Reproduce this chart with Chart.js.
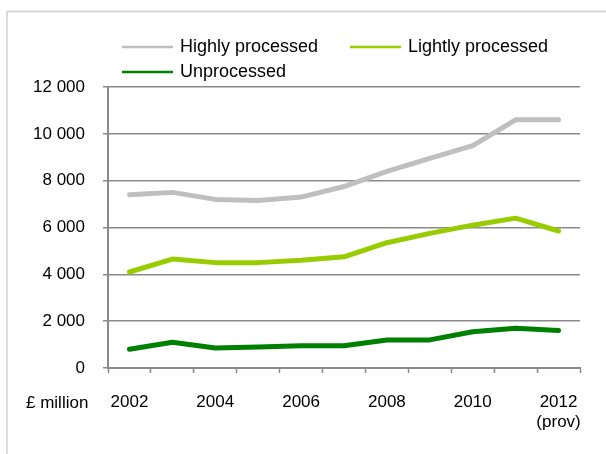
<!DOCTYPE html>
<html>
<head>
<meta charset="utf-8">
<title>Processed food sales</title>
<script src="https://cdn.jsdelivr.net/npm/chart.js@4/dist/chart.umd.min.js"></script>
<style>
    html, body { margin: 0; padding: 0; background: #fff; }
    #wrap { width: 606px; height: 454px; }
</style>
</head>
<body>
<div id="wrap"><canvas id="foodChart" width="606" height="454"></canvas></div>
<script>
// ===========================
// Data
// ===========================
const years = ['2002', '2003', '2004', '2005', '2006', '2007', '2008', '2009', '2010', '2011', '2012'];
const provisionalYear = '2012';
const highlyProcessed = [7400, 7500, 7200, 7150, 7300, 7750, 8400, 8950, 9500, 10600, 10600];
const lightlyProcessed = [4100, 4650, 4500, 4500, 4600, 4750, 5350, 5750, 6100, 6400, 5850];
const unprocessed = [800, 1100, 850, 900, 950, 950, 1200, 1200, 1550, 1700, 1600];
const yTicks = [0, 2000, 4000, 6000, 8000, 10000, 12000];
const unitLabel = '£ million';

const FONT = "'Liberation Sans', Arial, sans-serif";
const GRID = '#8a8a8a';

// thousands with a space, like "12 000"
function formatThousands(v) {
    return String(v).replace(/\B(?=(\d{3})+(?!\d))/g, ' ');
}

// ===========================
// Frame, unit label and legend (drawn by hand to match the layout)
// ===========================
const decorPlugin = {
    id: 'decor',
    beforeDraw(chart) {
        const ctx = chart.ctx;
        ctx.save();
        ctx.strokeStyle = '#d0d0d0';
        ctx.lineWidth = 1.5;
        ctx.beginPath();
        ctx.moveTo(7, 460);
        ctx.lineTo(7, 11.5);
        ctx.lineTo(610, 11.5);
        ctx.stroke();
        ctx.restore();
    },
    afterDraw(chart) {
        const ctx = chart.ctx;
        ctx.save();
        ctx.fillStyle = '#000';
        ctx.textBaseline = 'middle';

        // unit label next to the first year
        ctx.font = '17px ' + FONT;
        ctx.textAlign = 'left';
        ctx.fillText(unitLabel, 26, 403);

        // legend: two items on first row, one on the second
        const spots = [[122, 47], [350, 47], [122, 72]];
        ctx.font = '18px ' + FONT;
        chart.data.datasets.forEach((ds, i) => {
            const [x, y] = spots[i];
            ctx.strokeStyle = ds.borderColor;
            ctx.lineWidth = 2.5;
            ctx.beginPath();
            ctx.moveTo(x, y);
            ctx.lineTo(x + 51, y);
            ctx.stroke();
            ctx.fillText(ds.label, x + 58, y);
        });
        ctx.restore();
    }
};

// ===========================
// Chart
// ===========================
const ctx = document.getElementById('foodChart').getContext('2d');
const lineStyle = {
    borderWidth: 5,
    pointRadius: 0,
    pointHoverRadius: 0,
    tension: 0,
    fill: false,
    borderCapStyle: 'round',
    borderJoinStyle: 'round'
};

const foodChart = new Chart(ctx, {
    type: 'line',
    data: {
        labels: years,
        datasets: [
            Object.assign({ label: 'Highly processed', data: highlyProcessed, borderColor: '#bfbfbf' }, lineStyle),
            Object.assign({ label: 'Lightly processed', data: lightlyProcessed, borderColor: '#99cc00' }, lineStyle),
            Object.assign({ label: 'Unprocessed', data: unprocessed, borderColor: '#008000' }, lineStyle)
        ]
    },
    options: {
        responsive: false,
        animation: false,
        layout: {
            padding: { top: 87, right: 26, left: 0, bottom: 0 }
        },
        plugins: {
            legend: { display: false },
            tooltip: { enabled: false }
        },
        scales: {
            x: {
                offset: true,
                afterFit(scale) { scale.height = 86; },
                grid: {
                    offset: true,
                    drawOnChartArea: false,
                    drawTicks: true,
                    tickLength: 5,
                    tickColor: GRID,
                    tickWidth: 1.5
                },
                border: { display: true, color: GRID, width: 2 },
                ticks: {
                    autoSkip: false,
                    maxRotation: 0,
                    padding: 20,
                    color: '#000',
                    font: { family: FONT, size: 17, lineHeight: 1.15 },
                    callback: function (value, index) {
                        if (index % 2) return '';
                        const label = years[index];
                        return label === provisionalYear ? [label, '(prov)'] : label;
                    }
                }
            },
            y: {
                min: yTicks[0],
                max: yTicks[yTicks.length - 1],
                afterFit(scale) { scale.width = 108; },
                afterBuildTicks(scale) {
                    scale.ticks = yTicks.map(v => ({ value: v }));
                },
                grid: {
                    color: GRID,
                    lineWidth: 1.5,
                    drawTicks: true,
                    tickLength: 5
                },
                border: { display: true, color: GRID, width: 2 },
                ticks: {
                    padding: 18,
                    color: '#000',
                    font: { family: FONT, size: 17 },
                    callback: v => formatThousands(v)
                }
            }
        }
    },
    plugins: [decorPlugin]
});
</script>
</body>
</html>
